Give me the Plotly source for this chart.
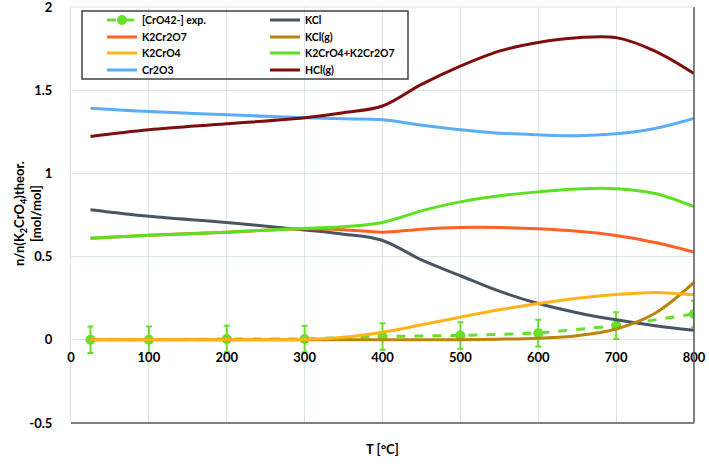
import plotly.graph_objects as go

# ---------------- data ----------------
T_calc = [25, 100, 200, 300, 350, 400, 450, 500, 550, 600, 650, 700, 750, 800]
KCl = [0.782, 0.742, 0.705, 0.660, 0.635, 0.597, 0.480, 0.385, 0.292, 0.218, 0.163, 0.120, 0.085, 0.058]
K2Cr2O7 = [0.611, 0.628, 0.647, 0.667, 0.662, 0.647, 0.665, 0.675, 0.675, 0.667, 0.652, 0.627, 0.585, 0.528]
KCl_g = [0.0, 0.0, 0.0, 0.0, 0.0, 0.0, 0.0, 0.001, 0.004, 0.010, 0.025, 0.065, 0.160, 0.345]
K2CrO4 = [0.0, 0.0, 0.0, 0.002, 0.015, 0.046, 0.090, 0.136, 0.180, 0.218, 0.250, 0.272, 0.285, 0.270]
K2CrO4_K2Cr2O7 = [0.611, 0.628, 0.647, 0.670, 0.680, 0.705, 0.775, 0.829, 0.865, 0.889, 0.907, 0.908, 0.879, 0.800]
Cr2O3 = [1.392, 1.372, 1.352, 1.335, 1.328, 1.322, 1.290, 1.262, 1.242, 1.232, 1.226, 1.238, 1.270, 1.330]
HCl_g = [1.222, 1.262, 1.298, 1.335, 1.365, 1.405, 1.535, 1.645, 1.735, 1.787, 1.815, 1.816, 1.735, 1.600]

T_exp = [25, 100, 200, 300, 400, 500, 600, 700, 800]
CrO4_exp = [0.0, 0.0, 0.005, 0.005, 0.020, 0.026, 0.040, 0.085, 0.155]
CrO4_err = [0.08, 0.08, 0.08, 0.08, 0.08, 0.08, 0.08, 0.08, 0.08]

x_ticks = [0, 100, 200, 300, 400, 500, 600, 700, 800]
y_ticks = [-0.5, 0, 0.5, 1, 1.5, 2]

# ---------------- figure ----------------
FONT = "Lato"
fig = go.Figure()

fig.add_trace(go.Scatter(
    x=T_exp, y=CrO4_exp, name="[CrO42-] exp.", mode="lines+markers",
    line=dict(color="#66E02A", width=3, dash="dash"),
    marker=dict(color="#66E02A", size=10, symbol="circle"),
    error_y=dict(type="data", array=CrO4_err, color="#66E02A", thickness=2, width=3),
    legend="legend"))

series = [
    ("KCl", KCl, "#4A5563", "legend"),
    ("K2Cr2O7", K2Cr2O7, "#FF6224", "legend2"),
    ("KCl(g)", KCl_g, "#B8860B", "legend2"),
    ("K2CrO4", K2CrO4, "#FFB31A", "legend3"),
    ("K2CrO4+K2Cr2O7", K2CrO4_K2Cr2O7, "#5EE022", "legend3"),
    ("Cr2O3", Cr2O3, "#5AAEF5", "legend4"),
    ("HCl(g)", HCl_g, "#7E0D0D", "legend4"),
]
for name, vals, col, lg in series:
    fig.add_trace(go.Scatter(
        x=T_calc, y=vals, name=name, mode="lines",
        line=dict(color=col, width=3, shape="spline", smoothing=1.0),
        legend=lg))

W, H = 709, 466
L, R, T, B = 71, 15, 7, 43
pw = W - L - R
ph = H - T - B

def px_x(p):
    return (p - L) / pw

def px_y(p):
    return 1 - (p - T) / ph

grid = "#DCE4EC"
legend_font = dict(family=FONT, size=10.5, color="#000000", weight="bold")

def row_legend(ycenter):
    return dict(
        orientation="h", x=px_x(102), y=px_y(ycenter), xanchor="left", yanchor="middle",
        bgcolor="rgba(0,0,0,0)", borderwidth=0, font=legend_font,
        itemwidth=30, entrywidth=118, entrywidthmode="pixels", traceorder="normal",
    )

fig.update_layout(
    width=W, height=H,
    margin=dict(l=L, r=R, t=T, b=B, autoexpand=False),
    paper_bgcolor="white", plot_bgcolor="white",
    font=dict(family=FONT, color="#000000"),
    xaxis=dict(
        range=[0, 800], tickvals=x_ticks, ticktext=[str(v) for v in x_ticks],
        showgrid=True, gridcolor=grid, gridwidth=1,
        zeroline=False, showline=False, automargin=False,
        anchor="free", position=0.2,
        ticks="", ticklabelstandoff=8, ticklabeloverflow="allow",
        tickfont=dict(family=FONT, size=13, color="#000000", weight="bold"),
    ),
    yaxis=dict(
        range=[-0.5, 2], tickvals=y_ticks, ticktext=["-0.5", "0", "0.5", "1", "1.5", "2"],
        showgrid=True, gridcolor=grid, gridwidth=1, automargin=False,
        zeroline=False, showline=True, linecolor=grid, linewidth=1,
        ticks="", ticklabelstandoff=15, ticklabeloverflow="allow",
        tickfont=dict(family=FONT, size=13, color="#000000", weight="bold"),
    ),
    legend=row_legend(20),
    legend2=row_legend(37),
    legend3=row_legend(53),
    legend4=row_legend(70),
    showlegend=True,
)

# legend frame, plot border lines
fig.add_shape(type="rect", xref="paper", yref="paper",
              x0=px_x(82), x1=px_x(408), y0=px_y(79), y1=px_y(11),
              line=dict(color="#404040", width=1.5), fillcolor="rgba(0,0,0,0)", layer="above")
fig.add_shape(type="line", xref="paper", yref="paper", x0=0, x1=1, y0=0, y1=0,
              line=dict(color="#555555", width=1.5))
fig.add_shape(type="line", xref="paper", yref="paper", x0=1, x1=1, y0=0, y1=1,
              line=dict(color="#555555", width=1.5))
fig.add_shape(type="line", xref="paper", yref="paper", x0=0, x1=1, y0=1, y1=1,
              line=dict(color=grid, width=1))

# axis titles
fig.add_annotation(
    text="T [°C]", xref="paper", yref="paper", x=0.5, y=px_y(449),
    showarrow=False, xanchor="center", yanchor="middle",
    font=dict(family=FONT, size=13, color="#000000", weight="bold"))
fig.add_annotation(
    text="n/n(K<sub>2</sub>CrO<sub>4</sub>)theor.<br>[mol/mol]",
    xref="paper", yref="paper", x=px_x(27), y=px_y(214),
    showarrow=False, xanchor="center", yanchor="middle", textangle=-90,
    font=dict(family=FONT, size=13, color="#000000", weight="bold"))

fig.write_html("out.html", config={"displayModeBar": False},
               post_script="document.body.style.margin='0';")
